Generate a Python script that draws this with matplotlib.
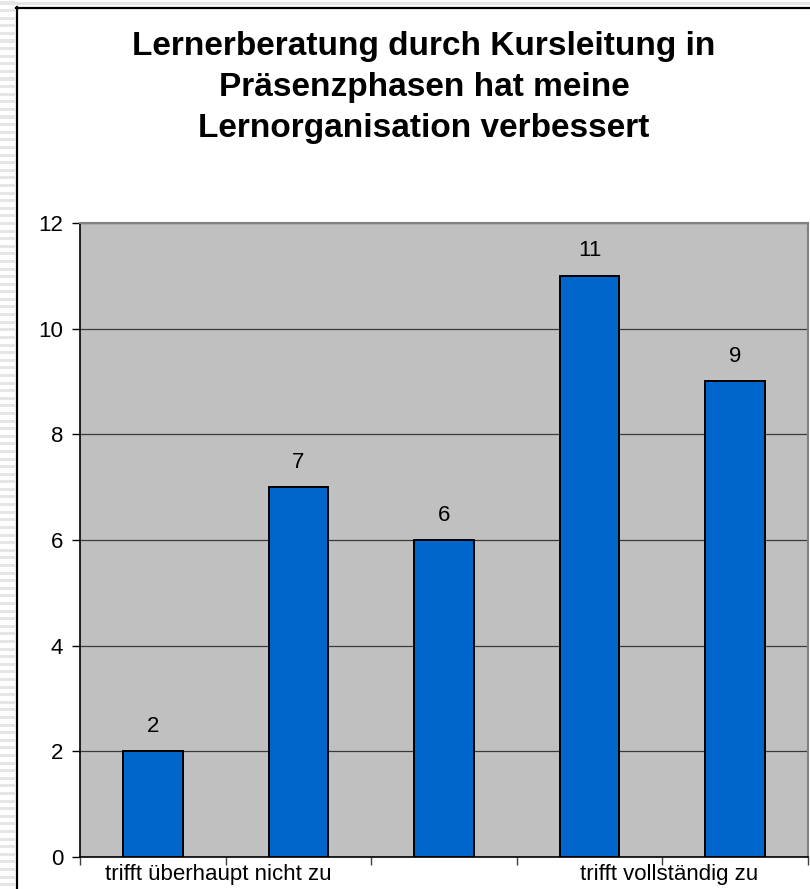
import matplotlib.pyplot as plt
import matplotlib.patches as mpatches
from matplotlib.lines import Line2D
import numpy as np

plt.rcParams['font.family'] = ['Liberation Sans', 'DejaVu Sans']

title = "Lernerberatung durch Kursleitung in\nPräsenzphasen hat meine\nLernorganisation verbessert"
categories = ["trifft überhaupt nicht zu", "", "", "", "trifft vollständig zu"]
values = [2, 7, 6, 11, 9]
yticks = [0, 2, 4, 6, 8, 10, 12]

W, H = 810, 889
fig = plt.figure(figsize=(W/100, H/100), dpi=100)
fig.patch.set_facecolor('white')

# striped margin left and top (slide background)
for y in np.arange(3, H, 7.6):
    fig.add_artist(mpatches.Rectangle((0, 1 - (y + 1.5)/H), 15/W, 3/H,
                                      transform=fig.transFigure, color='#e6e6e6', lw=0))
fig.add_artist(mpatches.Rectangle((0, 1 - 5/H), 1, 3/H,
                                  transform=fig.transFigure, color='#e6e6e6', lw=0))
# chart frame
fig.add_artist(Line2D([16.5/W, 16.5/W], [0, 1 - 7/H], transform=fig.transFigure, color='black', lw=1.6))
fig.add_artist(Line2D([16/W, 1], [1 - 7.5/H, 1 - 7.5/H], transform=fig.transFigure, color='black', lw=1.6))

ax = fig.add_axes([80/W, 1 - 857/H, 728/W, (857 - 223)/H])
ax.set_facecolor('#c0c0c0')

x = np.arange(len(values))
bars = ax.bar(x, values, width=0.41, color='#0066cc', edgecolor='black', linewidth=1.4, zorder=3)
for xi, v in zip(x, values):
    ax.annotate(str(v), (xi, v), xytext=(0, 14), textcoords='offset points',
                ha='center', va='baseline', fontsize=16, color='black')

ax.set_xlim(-0.5, len(values) - 0.5)
ax.set_ylim(0, 12)
ax.set_yticks(yticks)
ax.set_yticklabels([str(t) for t in yticks], fontsize=16)
ax.yaxis.grid(True, color='#3a3a3a', lw=0.9, zorder=1)
ax.set_axisbelow(True)
ax.tick_params(axis='y', length=6, width=1, pad=6, color='black')

ax.set_xticks(np.arange(len(values) + 1) - 0.5)
ax.set_xticklabels([])
ax.tick_params(axis='x', length=6, width=1, color='#404040')

# category labels (Excel shifts the outer ones inside the chart)
trans = ax.get_xaxis_transform()
ax.text(-0.33, -0.011, categories[0], transform=trans, ha='left', va='top', fontsize=16)
ax.text(4.155, -0.011, categories[-1], transform=trans, ha='right', va='top', fontsize=16)

for s in ['top', 'right']:
    ax.spines[s].set_color('#808080')
    ax.spines[s].set_linewidth(1.5)
for s in ['left', 'bottom']:
    ax.spines[s].set_color('black')
    ax.spines[s].set_linewidth(1.2)

fig.text(424/W, 1 - 31/H, title, ha='center', va='top', fontsize=24, fontweight='bold',
         linespacing=1.42)

fig.savefig('out.png', dpi=100)
